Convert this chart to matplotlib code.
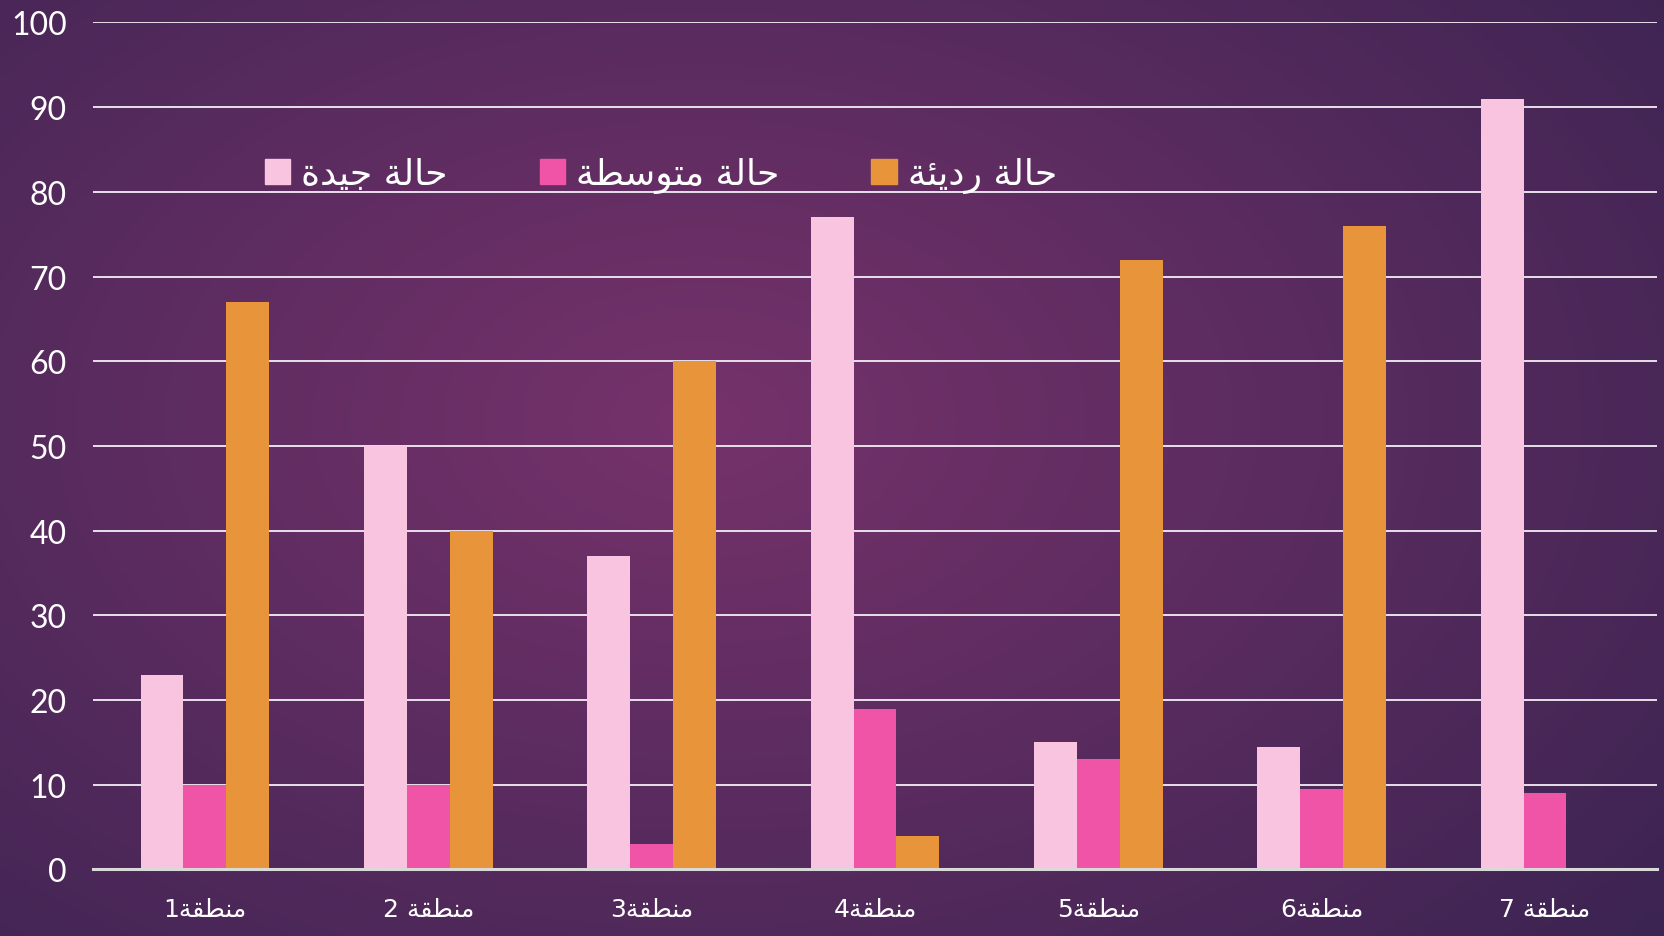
import numpy as np
import matplotlib.pyplot as plt
from matplotlib.patches import Patch

# --- data (logical Arabic strings, shaped below for display) ---
regions = ["منطقة1", "منطقة 2", "منطقة3", "منطقة4", "منطقة5", "منطقة6", "منطقة 7"]
series_names = ["حالة جيدة", "حالة متوسطة", "حالة رديئة"]
good = [23, 50, 37, 77, 15, 14.5, 91]
medium = [10, 10, 3, 19, 13, 9.5, 9]
poor = [67, 40, 60, 4, 72, 76, 0]
y_ticks = [0, 10, 20, 30, 40, 50, 60, 70, 80, 90, 100]

colors = ["#f9c4e0", "#ef54a6", "#e8943a"]

# --- minimal Arabic shaping (matplotlib has no complex text layout) ---
# letter: (isolated, final, initial, medial)
FORMS = {
    "ا": ("\uFE8D", "\uFE8E", None, None),
    "ح": ("\uFEA1", "\uFEA2", "\uFEA3", "\uFEA4"),
    "ل": ("\uFEDD", "\uFEDE", "\uFEDF", "\uFEE0"),
    "ة": ("\uFE93", "\uFE94", None, None),
    "ج": ("\uFE9D", "\uFE9E", "\uFE9F", "\uFEA0"),
    "ي": ("\uFEF1", "\uFEF2", "\uFEF3", "\uFEF4"),
    "د": ("\uFEA9", "\uFEAA", None, None),
    "م": ("\uFEE1", "\uFEE2", "\uFEE3", "\uFEE4"),
    "ت": ("\uFE95", "\uFE96", "\uFE97", "\uFE98"),
    "و": ("\uFEED", "\uFEEE", None, None),
    "س": ("\uFEB1", "\uFEB2", "\uFEB3", "\uFEB4"),
    "ط": ("\uFEC1", "\uFEC2", "\uFEC3", "\uFEC4"),
    "ر": ("\uFEAD", "\uFEAE", None, None),
    "ئ": ("\uFE89", "\uFE8A", "\uFE8B", "\uFE8C"),
    "ن": ("\uFEE5", "\uFEE6", "\uFEE7", "\uFEE8"),
    "ق": ("\uFED5", "\uFED6", "\uFED7", "\uFED8"),
}


def shape_word(word):
    out = []
    for i, ch in enumerate(word):
        f = FORMS[ch]
        prev = word[i - 1] if i > 0 else None
        nxt = word[i + 1] if i + 1 < len(word) else None
        join_prev = prev is not None and FORMS[prev][2] is not None
        join_next = nxt is not None and f[2] is not None
        if join_prev and join_next:
            out.append(f[3])
        elif join_prev:
            out.append(f[1])
        elif join_next:
            out.append(f[2])
        else:
            out.append(f[0])
    return "".join(reversed(out))


def shape(text):
    # split into arabic words, spaces and digit runs, lay out right to left
    runs, cur, cur_kind = [], "", None
    for ch in text:
        kind = "ar" if ch in FORMS else ("sp" if ch == " " else "ltr")
        if cur and (kind != cur_kind or kind == "sp"):
            runs.append((cur, cur_kind))
            cur = ""
        cur += ch
        cur_kind = kind
    if cur:
        runs.append((cur, cur_kind))
    parts = [shape_word(r) if k == "ar" else r for r, k in runs]
    return "".join(reversed(parts))


# --- figure with radial purple background ---
fig = plt.figure(figsize=(16.65, 9.37), dpi=100)
bg = fig.add_axes([0, 0, 1, 1], zorder=-10)
yy, xx = np.mgrid[0:1:300j, 0:1:500j]
r = np.sqrt(((xx - 0.42) / 0.75) ** 2 + ((yy - 0.45) / 0.85) ** 2)
r = np.clip(r, 0, 1)
c_in = np.array([0x76, 0x32, 0x6b]) / 255
c_out = np.array([0x3c, 0x24, 0x52]) / 255
img = c_in[None, None, :] * (1 - r[..., None]) + c_out[None, None, :] * r[..., None]
bg.imshow(img, aspect="auto", extent=[0, 1, 0, 1], origin="upper")
bg.axis("off")

ax = fig.add_axes([0.056, 0.071, 0.939, 0.904])
ax.patch.set_alpha(0)

x = np.arange(len(regions))
w = 0.192
for i, (vals, col) in enumerate(zip([good, medium, poor], colors)):
    ax.bar(x + (i - 1) * w, vals, width=w, color=col, zorder=3)

ax.set_xlim(-0.5, len(regions) - 0.5)
ax.set_ylim(0, 100)
ax.set_yticks(y_ticks)
ax.set_yticklabels([str(t) for t in y_ticks], fontsize=23, color="white",
                   family=["Lato", "DejaVu Sans"])
ax.set_xticks(x)
ax.set_xticklabels([shape(s) for s in regions], fontsize=18, color="white",
                   family="DejaVu Sans")
ax.tick_params(length=0)
ax.tick_params(axis="x", pad=20)
ax.tick_params(axis="y", pad=19)
ax.grid(axis="y", color="#e8e0ea", linewidth=1.4, zorder=1)
for s in ["top", "right", "left"]:
    ax.spines[s].set_visible(False)
ax.spines["bottom"].set_color("#d9d9d9")
ax.spines["bottom"].set_linewidth(2.2)
ax.spines["bottom"].set_zorder(4)

handles = [Patch(color=c) for c in colors]
leg = ax.legend(handles, [shape(s) for s in series_names], ncol=3,
                loc="center left", bbox_to_anchor=(0.110, 0.82), frameon=False,
                borderpad=0, borderaxespad=0,
                handlelength=0.7, handleheight=0.7, handletextpad=0.3,
                columnspacing=2.55, prop={"family": "DejaVu Sans", "size": 26})
for t in leg.get_texts():
    t.set_color("white")

fig.savefig("out.png", dpi=100)
